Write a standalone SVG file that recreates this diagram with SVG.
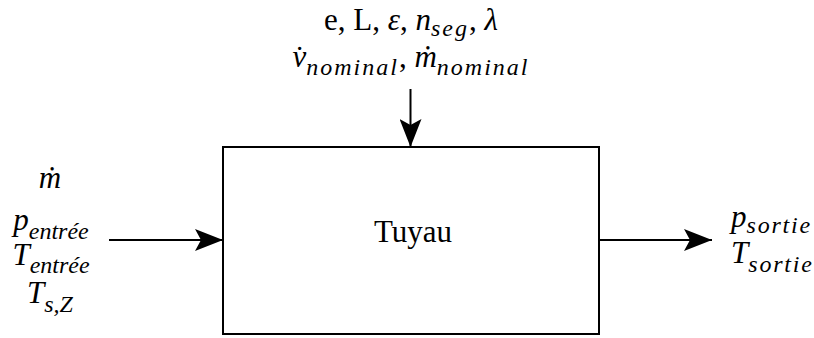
<svg xmlns="http://www.w3.org/2000/svg" width="814" height="338" viewBox="0 0 814 338">
<defs>
<marker id="ah" markerWidth="28" markerHeight="22" refX="28" refY="11" orient="auto" markerUnits="userSpaceOnUse">
<path d="M0,0 L28,11 L0,22 L6,11 Z" fill="#000"/>
</marker>
<style>
text{font-family:"Liberation Serif","DejaVu Serif",serif;font-size:31px;fill:#000}
.i{font-style:italic}
.s{font-size:24px;font-style:italic;letter-spacing:2px}
.s1{font-size:24px;font-style:italic}
.c{stroke:#000;stroke-width:2;fill:none}
</style>
</defs>
<rect width="814" height="338" fill="#fff"/>
<g id="tuyau">
<rect x="223" y="147" width="376" height="187" fill="#fff" stroke="#000" stroke-width="2"/>
<text x="413" y="242" text-anchor="middle">Tuyau</text>
</g>
<g id="params">
<text x="411" y="30" text-anchor="middle">e, L, <tspan class="i">ε</tspan>, <tspan class="i">n</tspan><tspan class="s" dy="6">seg</tspan><tspan dy="-6">, </tspan><tspan class="i">λ</tspan></text>
<text x="411" y="67" text-anchor="middle"><tspan class="i">v̇</tspan><tspan class="s" dy="8">nominal</tspan><tspan dy="-8">, </tspan><tspan class="i">ṁ</tspan><tspan class="s" dy="8">nominal</tspan></text>
</g>
<g id="inputs">
<text class="i" x="50" y="188" text-anchor="middle">ṁ</text>
<text x="51" y="230" text-anchor="middle"><tspan class="i">p</tspan><tspan class="s1" dy="9">entrée</tspan></text>
<text x="51" y="265" text-anchor="middle"><tspan class="i">T</tspan><tspan class="s1" dy="8">entrée</tspan></text>
<text x="50" y="303" text-anchor="middle"><tspan class="i">T</tspan><tspan class="s1" dy="9">s,Z</tspan></text>
</g>
<g id="outputs">
<text x="731" y="227"><tspan class="i">p</tspan><tspan class="s" dy="6" style="letter-spacing:1.8px">sortie</tspan></text>
<text x="731" y="263"><tspan class="i">T</tspan><tspan class="s" dy="9" style="letter-spacing:1.8px">sortie</tspan></text>
</g>
<g id="connectors">
<line class="c" x1="410.5" y1="89" x2="410.5" y2="147" marker-end="url(#ah)"/>
<line class="c" x1="109" y1="240" x2="223" y2="240" marker-end="url(#ah)"/>
<line class="c" x1="599" y1="240" x2="712" y2="240" marker-end="url(#ah)"/>
</g>
</svg>
